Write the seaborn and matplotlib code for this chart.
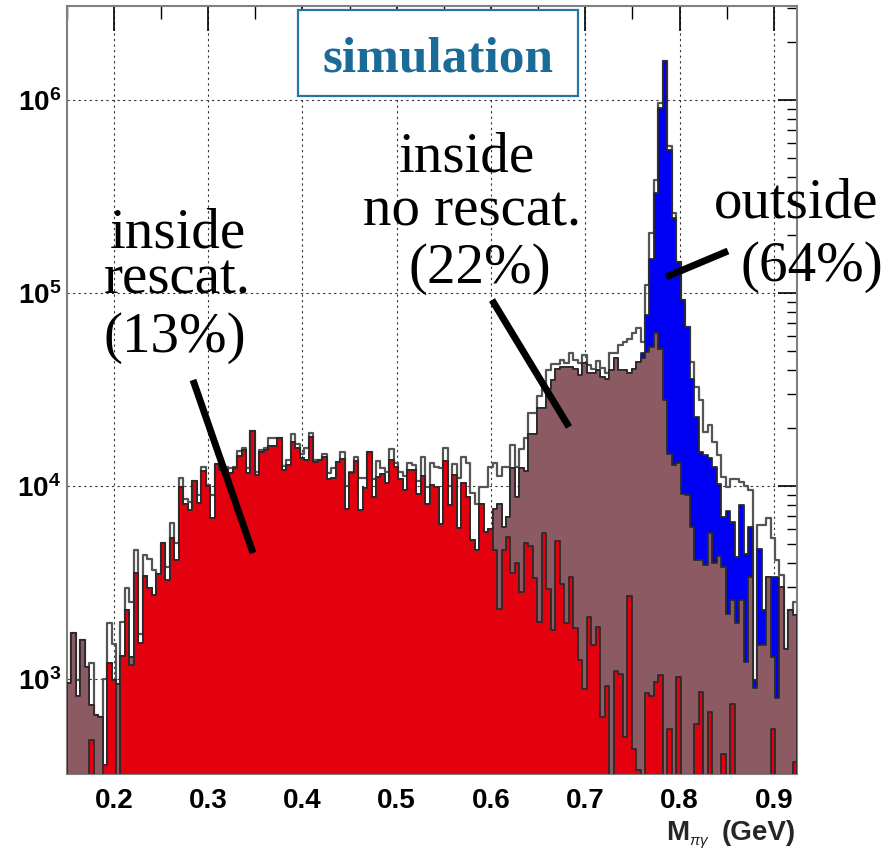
import numpy as np
import pandas as pd
import matplotlib
matplotlib.use("Agg")
import matplotlib.pyplot as plt
import seaborn as sns
from matplotlib.lines import Line2D
from matplotlib.patches import Rectangle
from matplotlib.ticker import FuncFormatter, LogLocator, MultipleLocator, NullFormatter

# ---------------- data ----------------
x_min, x_max, n_bins = 0.15, 0.925, 163

# inside, rescattered (red)
rescat = [
    0, 0, 0, 0, 0, 483, 0, 0, 358, 1214, 995, 0, 1316, 2296, 1182, 3556, 1542, 3420, 2985, 2723,
    3530, 5080, 3260, 5420, 4140, 9910, 8130, 7520, 10600, 8190, 11970, 10000, 6810, 13100, 12110, 12300, 11650, 12360, 14290, 15490,
    11650, 19280, 11400, 15060, 15490, 16110, 16110, 17790, 12110, 12850, 16970, 15780, 14030, 13650, 17990, 13370, 13600, 14190, 10960, 11000,
    13370, 13900, 7660, 11720, 13490, 7520, 9840, 15060, 8810, 11170, 11530, 10450, 13740, 12590, 10880, 9540, 12110, 12110, 9100, 11330,
    8130, 10120, 9910, 6340, 13490, 7980, 11480, 6040, 10400, 8810, 5250, 4660, 8130, 5800, 5980, 4700, 2320, 4660, 5460, 3560,
    3980, 2830, 5080, 4890, 3330, 1982, 5690, 2920, 1795, 5210, 3130, 1945, 3390, 1834, 1254, 895, 2100, 1500, 1867, 638,
    920, 0, 1104, 1070, 503, 2700, 437, 337, 0, 849, 816, 968, 1049, 0, 555, 0, 1028, 0, 0, 0,
    589, 859, 0, 678, 0, 0, 412, 0, 742, 0, 0, 0, 0, 0, 0, 0, 0, 555, 0, 0,
    0, 0, 373,
]

# inside, not rescattered, stacked on top of the red one (brown)
norescat_stack = [
    957, 1746, 816, 1606, 1158, 733, 656, 638, 358, 1214, 995, 942, 1316, 2296, 1305, 3556, 1542, 3420, 2985, 2723,
    3530, 5080, 3260, 5420, 4140, 9910, 8130, 7520, 10600, 8190, 11970, 10000, 6810, 13100, 12110, 12300, 11650, 12360, 14290, 15490,
    11650, 19280, 11400, 15060, 15490, 16110, 16110, 17790, 12110, 12850, 16970, 15780, 14030, 13650, 17990, 13370, 13600, 14190, 10960, 11000,
    13370, 13900, 7660, 11720, 13490, 7520, 9840, 15060, 8810, 11170, 11530, 10450, 13740, 12590, 10880, 9540, 12110, 12110, 9100, 11330,
    8130, 10120, 9910, 6340, 13490, 7980, 11480, 6040, 10400, 8810, 5250, 4660, 8130, 5800, 5980, 7660, 8130, 6150, 6940, 12360,
    8810, 12480, 11970, 18580, 18580, 25470, 25470, 31700, 35400, 40700, 41500, 41500, 41500, 40700, 37600, 43300, 38600, 38600, 39900, 36800,
    35700, 39900, 45900, 39900, 39900, 38600, 40700, 44100, 45900, 49600, 52700, 62200, 51200, 27900, 14750, 12850, 13230, 9150, 9050, 6150,
    4140, 4140, 3900, 5690, 4010, 4340, 3820, 2190, 2560, 1960, 2560, 1229, 3390, 900, 1500, 1500, 3390, 1305, 800, 3010,
    1442, 2280, 2150,
]

# outside, stacked on top of the inside ones (blue)
outside_stack = norescat_stack[:128] + [
    48700, 77000, 151000, 329000, 906000, 1600000, 551000, 244000, 145000, 92000, 66800, 36000,
    22900, 15060, 14490, 13940, 12590, 10320, 6940, 7420, 6530, 4300, 7980, 4480, 6150, 988, 4720, 2280, 3390, 3390, 3390, 3010,
    1442, 2280, 2150,
]

# all events (open histogram)
total = [
    957, 1746, 995, 1606, 1158, 1214, 656, 638, 1008, 1958, 1531, 942, 1982, 2970, 2512, 4700, 1725, 4395, 4218, 3700,
    3530, 5080, 3795, 6410, 5050, 11000, 8590, 8300, 10600, 8980, 12590, 10200, 8980, 13100, 12850, 12500, 12360, 12500, 15170, 15700,
    12420, 19280, 11870, 15490, 15780, 17790, 17790, 17790, 12710, 13740, 18530, 16630, 14600, 15780, 18750, 13700, 13700, 14750, 11650, 12360,
    13370, 14950, 10000, 11800, 14190, 11090, 11090, 15060, 10840, 13490, 12360, 11780, 15600, 13200, 11820, 11290, 13230, 12850, 10650, 14190,
    9910, 13230, 12590, 12360, 15780, 10000, 13100, 11000, 14190, 13230, 9200, 8130, 9910, 9910, 12590, 13230, 11290, 12590, 12590, 16440,
    12590, 15660, 17870, 23830, 23830, 29240, 32060, 39900, 42800, 42800, 45300, 43300, 48700, 45300, 43300, 47800, 42400, 40300, 44600, 41000,
    38400, 48700, 48700, 53800, 55900, 58200, 61800, 66000, 56000, 110000, 204000, 385000, 961000, 1600000, 578000, 259000, 145000, 92000, 66800, 44000,
    32700, 27900, 19100, 20700, 16980, 14490, 11170, 9910, 10840, 10840, 10520, 10000, 9530, 988, 6280, 6280, 6810, 5360, 4140, 3460,
    1442, 2280, 2510,
]

x_ticks = [0.2, 0.3, 0.4, 0.5, 0.6, 0.7, 0.8, 0.9]
y_range = (322, 3.07e6)

# ---------------- style ----------------
sns.set_theme(style="white")
plt.rcParams["font.family"] = ["Liberation Sans", "DejaVu Sans"]
plt.rcParams["mathtext.fontset"] = "custom"
plt.rcParams["mathtext.rm"] = "Liberation Sans"
plt.rcParams["mathtext.bf"] = "Liberation Sans:bold"
plt.rcParams["mathtext.it"] = "Liberation Sans:italic"

W, H = 888, 850
fig = plt.figure(figsize=(W / 100, H / 100), dpi=100)
ax = fig.add_axes([66.7 / W, 1 - 774.3 / H, (797.4 - 66.7) / W, (774.3 - 6) / H])

edges = list(np.linspace(x_min, x_max, n_bins + 1))
centers = [0.5 * (edges[i] + edges[i + 1]) for i in range(n_bins)]
df = pd.DataFrame({
    "m": centers,
    "total": total,
    "outside": outside_stack,
    "norescat": norescat_stack,
    "rescat": rescat,
})

ax.set_yscale("log")

sns.histplot(data=df, x="m", weights="total", bins=edges, element="step", fill=False,
             color="#555555", linewidth=1.6, ax=ax, zorder=2)
layers = [("outside", "#0000f5"), ("norescat", "#8b5a62"), ("rescat", "#e3000f")]
for col, fc in layers:
    sns.histplot(data=df, x="m", weights=col, bins=edges, element="step", fill=True,
                 color=fc, edgecolor="#2a2a2a", linewidth=1.3, alpha=1, ax=ax, zorder=3)

ax.set_xlim(x_min, x_max)
ax.set_ylim(*y_range)
ax.set_xlabel("")
ax.set_ylabel("")

ax.set_xticks(x_ticks)
ax.xaxis.set_minor_locator(MultipleLocator(0.05))
ax.xaxis.set_major_formatter(FuncFormatter(lambda v, p: f"{v:.1f}"))
ax.yaxis.set_major_locator(LogLocator(base=10, numticks=10))
ax.yaxis.set_minor_locator(LogLocator(base=10, subs=np.arange(2, 10), numticks=20))
ax.yaxis.set_major_formatter(FuncFormatter(lambda v, p: r"$\mathbf{10^{%d}}$" % round(np.log10(v))))
ax.yaxis.set_minor_formatter(NullFormatter())

ax.tick_params(axis="both", which="both", direction="in", top=True, right=True, colors="black")
ax.tick_params(axis="y", which="major", length=14, width=1.2, labelsize=20, pad=4)
ax.tick_params(axis="y", which="minor", length=7, width=1.0)
ax.tick_params(axis="x", which="major", length=18, width=1.2, labelsize=20, pad=10)
ax.tick_params(axis="x", which="minor", length=9, width=1.0)
for lab in ax.get_xticklabels():
    lab.set_fontweight("bold")

ax.grid(True, which="major", color="#333333", linestyle=(0, (2, 3)), linewidth=0.8)
ax.set_axisbelow(True)
for s in ax.spines.values():
    s.set_color("#808080")
    s.set_linewidth(1.5)


def fx(x):
    return x / W


def fy(y):
    return 1 - y / H


# x axis label: "M", a small subscript, "(GeV)"
fig.text(fx(796), fy(840), "(GeV)", ha="right", va="baseline", fontsize=20, fontweight="bold")
fig.text(fx(689), fy(845), r"$\pi\gamma$", ha="left", va="baseline", fontsize=11, fontweight="bold")
fig.text(fx(689), fy(840), "M", ha="right", va="baseline", fontsize=20, fontweight="bold")

# "simulation" box
fig.add_artist(Rectangle((fx(298), fy(96)), fx(578) - fx(298), fy(10) - fy(96),
                         transform=fig.transFigure, facecolor="white",
                         edgecolor="#2376a6", linewidth=1.6, zorder=5))
fig.text(fx(438), fy(72), "simulation", ha="center", va="baseline", fontsize=37,
         fontweight="bold", family=["Liberation Serif", "DejaVu Serif"], color="#1b6b99", zorder=6)

serif = ["Liberation Serif", "DejaVu Serif"]
labels = [
    ("inside", 178, 247), ("rescat.", 177, 294), ("(13%)", 175, 352),
    ("inside", 467, 172), ("no rescat.", 472, 226), ("(22%)", 480, 283),
    ("outside", 796, 217), ("(64%)", 812, 281),
]
for txt, x, y in labels:
    fig.text(fx(x), fy(y), txt, ha="center", va="baseline", fontsize=41,
             family=serif, color="black", zorder=6)

pointers = [((193, 380), (253, 553)), ((492, 300), (569, 427)), ((666, 277), (728, 251))]
for (x0, y0), (x1, y1) in pointers:
    fig.add_artist(Line2D([fx(x0), fx(x1)], [fy(y0), fy(y1)], transform=fig.transFigure,
                          color="black", linewidth=5, solid_capstyle="butt", zorder=6))

fig.savefig("out.png", dpi=100, facecolor="white")
